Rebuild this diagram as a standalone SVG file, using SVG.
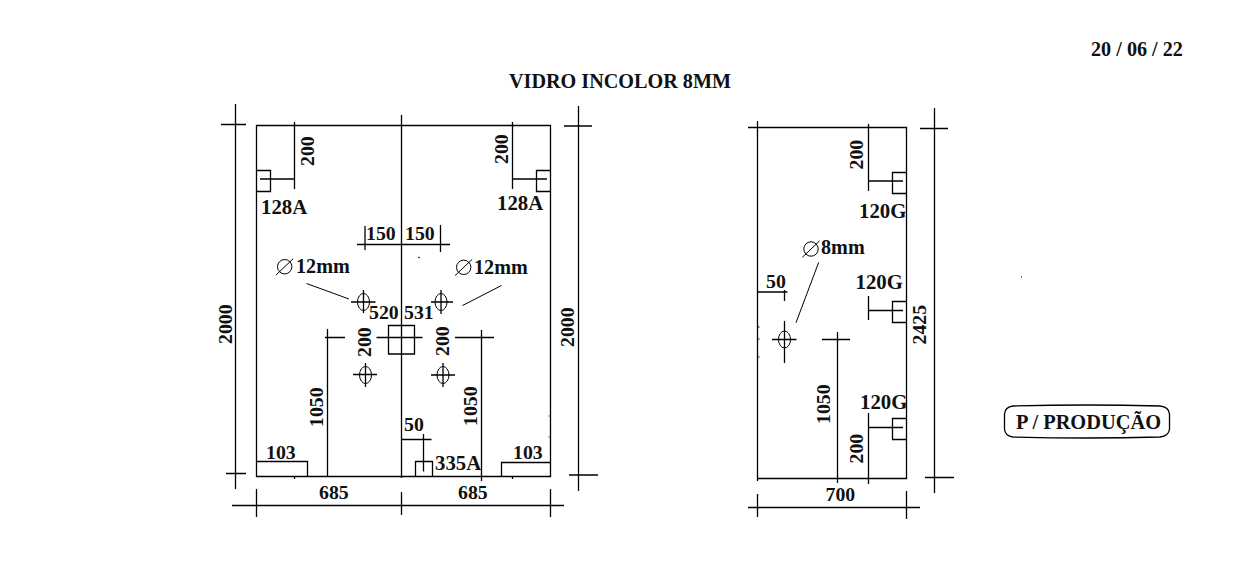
<svg xmlns="http://www.w3.org/2000/svg" width="1257" height="565" viewBox="0 0 1257 565">
<style>
.l{fill:none;stroke:#000;stroke-width:1.3}
.t{font-family:"Liberation Serif","Times New Roman",serif;font-weight:bold;font-size:20.2px;fill:#111}
.n{font-size:19.8px}
.w{font-size:20.8px}
.d{fill:none;stroke:#000;stroke-width:1}
</style>
<defs>
<g id="hole"><ellipse rx="6" ry="8.5" class="d"/></g>
<g id="dia"><circle r="7.2" class="d"/><path d="M-8.7 8.3L8.5-8" class="d"/></g>
</defs>
<rect width="1257" height="565" fill="#fff"/>
<g id="header">
<text class="t" x="509" y="88">VIDRO INCOLOR 8MM</text>
<text class="t" x="1091" y="56">20 / 06 / 22</text>
</g>
<g id="panel-left">
<path class="l" d="M256.5 125.5H550.5V476.5H256.5Z"/>
<path class="l" d="M401.5 115V478M235.5 104V489M221 124.5H246M226 473.5H246M578.5 106V491M564 126H592M569 475H598"/>
<path class="l" d="M232 505.5H564M256.5 489V517M401.5 492V515M550.5 489V517"/>
<path class="l" d="M294.5 122V189M260 179H294.5M256.5 170.5H270.5V191.5H256.5M512.5 122V189M512.5 179H547M550.5 170.5H536.5V191.5H550.5"/>
<path class="l" d="M357 244.5H450M365 226V250M440.5 225V252"/>
<path class="d" d="M306.5 283.5L349 299M462.5 305.5L501.5 285.5"/>
<use href="#dia" x="284.7" y="266.7"/><use href="#dia" x="463.7" y="267.3"/>
<path class="l" d="M351 302H375.500M363.500 290V313M431 302H453M441 290V314M353 374.500H377M365.500 363V387M431 375H455M443 363V387"/>
<use href="#hole" x="363.500" y="302"/><use href="#hole" x="441" y="302"/><use href="#hole" x="365.500" y="375"/><use href="#hole" x="443" y="375"/>
<path class="l" d="M388.500 325.500H414.500V354H388.500ZM376.500 337.500H422.500M325 337.500H345M327.500 329V476.500M455 337.500H494M481.500 330V481"/>
<path class="l" d="M256.500 461.500H307.500V476.500M501.500 476.500V462.500H550.500M294.500 476.500V479M512.500 476.500V479"/>
<path class="l" d="M401.500 439.500H431.500M423.500 434V471.500M415.500 476.500V461.500H432.500V476.500"/>
<path class="d" d="M418 257l2 1M548.500 416h1M548.500 437h1"/>
<text class="t w" x="261" y="214">128A</text>
<text class="t w" x="497" y="210">128A</text>
<text class="t n" transform="translate(314.300 166) rotate(-90)">200</text>
<text class="t n" transform="translate(508.300 164) rotate(-90)">200</text>
<text class="t n" x="366" y="240">150</text>
<text class="t n" x="405" y="240">150</text>
<text class="t" x="296" y="273">12mm</text>
<text class="t" x="474" y="274">12mm</text>
<text class="t n" x="369" y="319">520</text>
<text class="t n" x="404" y="319">531</text>
<text class="t n" transform="translate(370.700 357) rotate(-90)">200</text>
<text class="t n" transform="translate(449 356) rotate(-90)">200</text>
<text class="t n" transform="translate(322.700 427) rotate(-90)">1050</text>
<text class="t n" transform="translate(476.700 426) rotate(-90)">1050</text>
<text class="t n" transform="translate(231.700 344) rotate(-90)">2000</text>
<text class="t n" transform="translate(574.300 347) rotate(-90)">2000</text>
<text class="t n" x="266" y="458.500">103</text>
<text class="t n" x="513" y="458.500">103</text>
<text class="t n" x="319" y="499">685</text>
<text class="t n" x="458" y="499">685</text>
<text class="t n" x="404" y="431">50</text>
<text class="t w" x="435" y="470">335A</text>
</g>
<g id="panel-right">
<path class="l" d="M748 127.500H906.500V478.500H757.500V121M757.500 478.500V481"/>
<path class="l" d="M934.500 108V493M920 128.500H948M925 477.500H954M748 507.500H920M757.500 494V517M906.500 491V519"/>
<path class="l" d="M868.500 124V191M868.500 181H903M906.500 172.500H892.500V193.500H906.500"/>
<path class="l" d="M868.500 296V320M868.500 310.500H903M906.500 301.500H892.500V322.500H906.500"/>
<path class="l" d="M868.500 413V484M868.500 427.500H903M906.500 418.500H892.500V439.500H906.500"/>
<path class="l" d="M757 292H787.500M784.500 290V301"/>
<path class="d" d="M818.700 262.300L796 322.700"/>
<use href="#dia" x="811" y="249"/>
<path class="l" d="M772 339.500H796.500M784.500 321V363M822 339.500H850M837.500 332V483"/>
<use href="#hole" x="784.500" y="339.500"/>
<path class="d" d="M758 327h1.500M758 339h1.500M758 357h1.500"/>
<text class="t w" x="859" y="218">120G</text>
<text class="t w" x="855.500" y="288.500">120G</text>
<text class="t w" x="860" y="408.500">120G</text>
<text class="t" x="821" y="254">8mm</text>
<text class="t n" x="766" y="288">50</text>
<text class="t n" transform="translate(863.300 169.500) rotate(-90)">200</text>
<text class="t n" transform="translate(863.300 463.500) rotate(-90)">200</text>
<text class="t n" transform="translate(830 424) rotate(-90)">1050</text>
<text class="t n" transform="translate(926 344.500) rotate(-90)">2425</text>
<text class="t n" x="825.500" y="501">700</text>
</g>
<g id="stamp">
<path class="l" d="M1013 406Q1087 404 1160 406Q1169 407 1169.500 414V429Q1169 436 1160 437Q1087 439 1013 437Q1005 436 1004.500 429V414Q1005 407 1013 406Z"/>
<text class="t" x="1016" y="428.500" style="font-size:20.4px">P / PRODUÇÃO</text>
</g>
<path id="speck" class="d" d="M1021 277h1"/>
</svg>
